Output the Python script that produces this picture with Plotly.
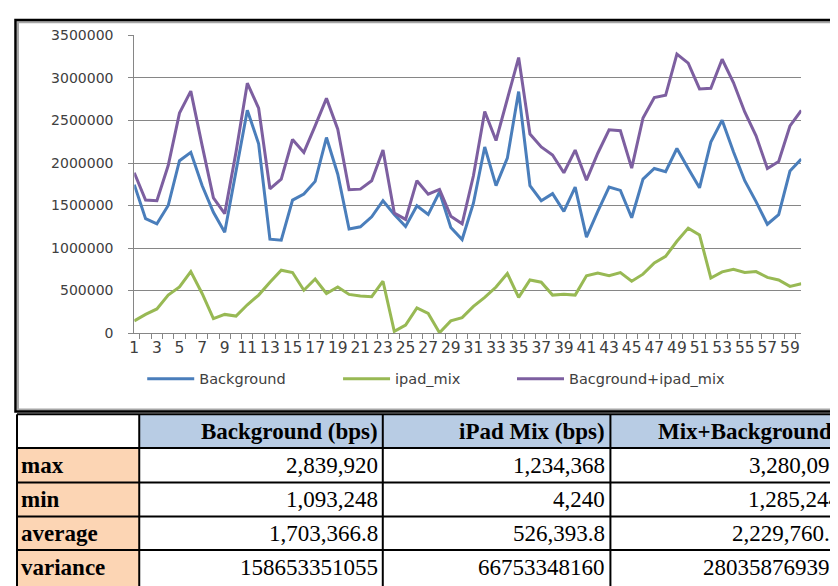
import plotly.graph_objects as go

W, H = 838, 586
OFF = 8  # page body margin

# --- data ---------------------------------------------------------------
samples = list(range(1, 61))

background = [1746000, 1345000, 1284000, 1500000, 2027000, 2125000, 1735000, 1420000, 1186000, 1905000,
              2620000, 2227000, 1105000, 1093248, 1564000, 1635000, 1784000, 2300000, 1868000, 1224000,
              1250000, 1367000, 1557000, 1394000, 1254000, 1496000, 1394000, 1659000, 1242000, 1100000,
              1527000, 2189000, 1735000, 2057000, 2839920, 1735000, 1557000, 1640000, 1432000, 1716000,
              1129000, 1432000, 1716000, 1678000, 1356000, 1811000, 1936000, 1898000, 2171000, 1936000,
              1708000, 2246000, 2504000, 2133000, 1792000, 1546000, 1280000, 1394000, 1905000, 2046000]

ipad_mix = [144000, 220000, 284000, 447000, 542000, 724000, 466000, 170000, 220000, 200000,
            333000, 447000, 598000, 739000, 712000, 504000, 636000, 466000, 542000, 455000,
            436000, 428000, 610000, 20000, 95000, 295000, 231000, 4240, 144000, 182000,
            314000, 420000, 542000, 701000, 420000, 625000, 598000, 447000, 458000, 447000,
            674000, 705000, 674000, 712000, 610000, 693000, 826000, 902000, 1080000, 1234368,
            1155000, 648000, 720000, 750000, 712000, 723000, 655000, 625000, 549000, 580000]

combined = [1886000, 1564000, 1557000, 1970000, 2587000, 2845000, 2208000, 1590000, 1405000, 2130000,
            2939000, 2644000, 1697000, 1811000, 2277000, 2125000, 2436000, 2760000, 2398000, 1686000,
            1693000, 1792000, 2152000, 1413000, 1337000, 1792000, 1633000, 1690000, 1375000, 1285244,
            1850000, 2606000, 2265000, 2758000, 3240000, 2341000, 2189000, 2095000, 1886000, 2152000,
            1799000, 2115000, 2390000, 2379000, 1940000, 2530000, 2769000, 2796000, 3280096, 3174000,
            2871000, 2879000, 3220000, 2947000, 2600000, 2320000, 1936000, 2019000, 2436000, 2618000]

series_names = ["Background", "ipad_mix", "Bacground+ipad_mix"]
series_colors = ["#4a7ebb", "#98b954", "#7d5fa0"]

# summary table
stat_labels = ["max", "min", "average", "variance"]
table_headers = ["Background (bps)", "iPad Mix (bps)", "Mix+Background (bps)"]
bg_stats = [2839920, 1093248, 1703366.8, 158653351055]
ipad_stats = [1234368, 4240, 526393.8, 66753348160]
mix_stats = [3280096, 1285244, 2229760.6, 280358769397]


def fmt(values):
    return [f"{values[0]:,.0f}", f"{values[1]:,.0f}", f"{values[2]:,.1f}", f"{values[3]:.0f}"]


# page pixel -> paper fraction (the figure sits 8px in from the page corner)
def px(x):
    return (x - OFF) / W


def py(y):
    return 1 - (y - OFF) / H


# --- chart --------------------------------------------------------------
fig = go.Figure()
cats = [str(s) for s in samples]
legend_ids = ["legend", "legend2", "legend3"]
for name, vals, col, lg in zip(series_names, [background, ipad_mix, combined], series_colors, legend_ids):
    fig.add_trace(go.Scatter(x=cats, y=vals, mode="lines", name=name, legend=lg,
                             showlegend=True, line=dict(color=col, width=3)))

shapes = []
# chart frame
shapes.append(dict(type="rect", xref="paper", yref="paper",
                   x0=px(13), x1=px(860), y0=py(412.5), y1=py(14.5),
                   line=dict(color="#a6a6a6", width=2)))
shapes.append(dict(type="rect", xref="paper", yref="paper",
                   x0=px(10.5), x1=px(860), y0=py(414.5), y1=py(12),
                   line=dict(color="black", width=2.5)))

# table fills
col_x = [12, 135, 380, 609, 860]
row_y = [417.5, 452, 487.5, 522.5, 557, 600]
shapes.append(dict(type="rect", xref="paper", yref="paper", layer="below",
                   x0=px(col_x[1]), x1=px(col_x[4]), y0=py(row_y[1]), y1=py(row_y[0]),
                   fillcolor="#b8cce4", line=dict(width=0)))
shapes.append(dict(type="rect", xref="paper", yref="paper", layer="below",
                   x0=px(col_x[0]), x1=px(col_x[1]), y0=py(row_y[5]), y1=py(row_y[1]),
                   fillcolor="#fcd5b4", line=dict(width=0)))
# table grid
for yy in row_y[:5]:
    shapes.append(dict(type="line", xref="paper", yref="paper",
                       x0=px(col_x[0]), x1=px(col_x[4]), y0=py(yy), y1=py(yy),
                       line=dict(color="black", width=2)))
for xx in col_x[:4]:
    shapes.append(dict(type="line", xref="paper", yref="paper",
                       x0=px(xx), x1=px(xx), y0=py(row_y[0]), y1=py(row_y[5]),
                       line=dict(color="black", width=2)))

annotations = []
serif = "Liberation Serif"
hdr_y = (row_y[0] + row_y[1]) / 2
annotations.append(dict(text="<b>%s</b>" % table_headers[0], x=px(377), y=py(hdr_y),
                        xanchor="right"))
annotations.append(dict(text="<b>%s</b>" % table_headers[1], x=px(606), y=py(hdr_y),
                        xanchor="right"))
annotations.append(dict(text="<b>%s</b>" % table_headers[2], x=px(655), y=py(hdr_y),
                        xanchor="left"))
col_right = [377, 606, 843]
for r, lab in enumerate(stat_labels):
    yc = (row_y[r + 1] + row_y[r + 2]) / 2 if r < 3 else 574.5
    annotations.append(dict(text="<b>%s</b>" % lab, x=px(14), y=py(yc), xanchor="left"))
    for c, stats in enumerate([bg_stats, ipad_stats, mix_stats]):
        annotations.append(dict(text=fmt(stats)[r], x=px(col_right[c]), y=py(yc),
                                xanchor="right"))
for a in annotations:
    a.update(xref="paper", yref="paper", yanchor="middle", showarrow=False,
             font=dict(family=serif, size=23, color="black"))

legend_font = dict(family="DejaVu Sans", size=14.5, color="#404040")


def legend_box(x):
    return dict(orientation="h", x=px(x), y=py(381), xanchor="left", yanchor="middle",
                itemwidth=47, font=legend_font, bgcolor="rgba(0,0,0,0)", visible=True)


fig.update_layout(
    width=W, height=H,
    margin=dict(l=0, r=0, t=0, b=0),
    paper_bgcolor="white", plot_bgcolor="white",
    showlegend=True,
    shapes=shapes, annotations=annotations,
    xaxis=dict(
        domain=[px(130), px(801)],
        type="category",
        tickson="boundaries",
        tickmode="array",
        tickvals=cats,
        ticktext=[c if int(c) % 2 else "" for c in cats],
        ticks="outside", ticklen=5, tickcolor="#868686",
        showline=True, linecolor="#868686", linewidth=1,
        showgrid=False, tickangle=0,
        tickfont=dict(family="DejaVu Sans", size=15.5, color="#404040"),
    ),
    yaxis=dict(
        domain=[py(334), py(28)],
        range=[0, 3500000],
        tickmode="linear", tick0=0, dtick=500000,
        tickformat="d",
        ticks="outside", ticklen=5, tickcolor="#868686",
        showline=True, linecolor="#868686", linewidth=1,
        showgrid=True, gridcolor="#868686", gridwidth=1,
        zeroline=False,
        ticklabelstandoff=12,
        tickfont=dict(family="DejaVu Sans", size=14, color="#404040"),
    ),
    legend=legend_box(138),
    legend2=legend_box(335),
    legend3=legend_box(510),
)

fig.write_html("out.html")
